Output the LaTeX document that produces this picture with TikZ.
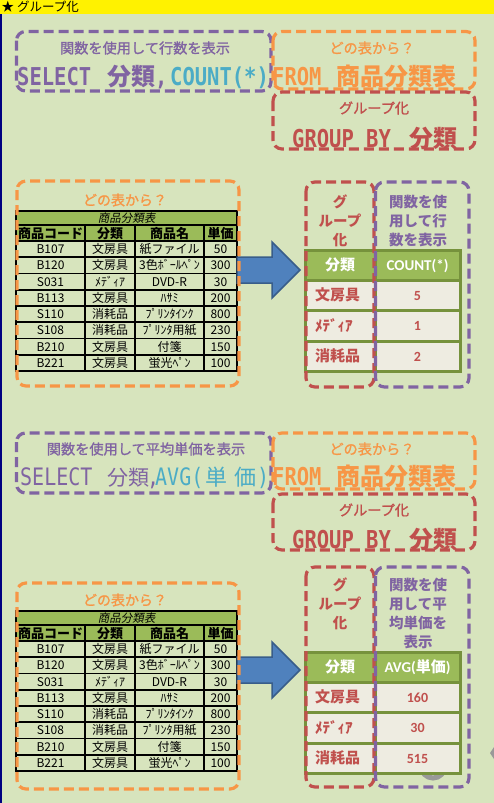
\documentclass[tikz,border=0pt]{standalone}
\usepackage{fontspec}
\usepackage{graphicx}
\newfontfamily\jp{Noto Sans CJK JP}
\newfontfamily\jpm{Noto Sans CJK JP}[FakeBold=1.2]
\newfontfamily\jpsl{Noto Sans CJK JP}[FakeSlant=0.2]
\newfontfamily\monof{DejaVu Sans Mono}
\newfontfamily\carl{Carlito}
\newcommand\fs[2]{\fontsize{#1}{#2}\selectfont}
\newcommand\tall[1]{\scalebox{1}[1.2]{#1}}
\definecolor{bg}{HTML}{D7E4BD}
\definecolor{pur}{HTML}{8064A2}
\definecolor{ora}{HTML}{F79646}
\definecolor{red2}{HTML}{C0504D}
\definecolor{aqua}{HTML}{4BACC6}
\definecolor{grn}{HTML}{9BBB59}
\definecolor{dgrn}{HTML}{76923C}
\definecolor{cell}{HTML}{EEECE1}
\definecolor{arr}{HTML}{4F81BD}
\definecolor{arrd}{HTML}{385D8A}
\definecolor{navy2}{HTML}{000080}
\tikzset{
 dbox/.style={line width=3.2pt, dash pattern=on 10pt off 5pt, rounded corners=9pt},
 txt/.style={inner sep=0pt, anchor=base west},
 lbl/.style={inner sep=0pt},
 cen/.style={inner sep=0pt, anchor=base},
 tline/.style={line width=1.8pt, black},
 gline/.style={line width=3pt, dgrn},
 arrowshape/.style={fill=arr, draw=arrd, line width=1.5pt, line join=miter},
 bigb/.style={font=\monof\bfseries\fs{20.5}{24}},
 bigr/.style={font=\monof\fs{20}{24}},
 bigj/.style={font=\jp\bfseries\fs{24}{28}},
 bigjr/.style={font=\jp\fs{21}{26}},
 small/.style={font=\jpm\fs{14.2}{16}},
 stack/.style={inner sep=0pt, align=center, font=\jp\bfseries\fs{14.5}{19}},
}
\newcommand\lefttable[2]{%
\begin{scope}[shift={(0,#2)}, name prefix=#1-]
 \fill[grn] (16,0) rectangle (237,30);
 \node[cen, font=\jpsl\fs{11.5}{13}] (title) at (126.5,11.3) {商品分類表};
 \node[cen, font=\jp\bfseries\fs{13}{14}] (h1) at (50.5,27) {商品コード};
 \node[cen, font=\jp\bfseries\fs{13}{14}] (h2) at (110,27) {分類};
 \node[cen, font=\jp\bfseries\fs{13}{14}] (h3) at (169.5,27) {商品名};
 \node[cen, font=\jp\bfseries\fs{13}{14}] (h4) at (220.5,27) {単価};
 \foreach \a/\b/\c/\d [count=\i] in {B107/文房具/紙ファイル/50, B120/文房具/3色ﾎﾞｰﾙﾍﾟﾝ/300, S031/ﾒﾃﾞｨｱ/DVD-R/30, B113/文房具/ﾊｻﾐ/200, S110/消耗品/ﾌﾟﾘﾝﾀｲﾝｸ/800, S108/消耗品/ﾌﾟﾘﾝﾀ用紙/230, B210/文房具/付箋/150, B221/文房具/蛍光ﾍﾟﾝ/100}{
  \pgfmathsetmacro\yy{30+16.25*\i-8.125+4.4}
  \node[cen, font=\jp\fs{12}{13}] (r\i a) at (50.5,\yy) {\a};
  \node[cen, font=\jp\fs{12}{13}] (r\i b) at (110,\yy) {\b};
  \node[cen, font=\jp\fs{12}{13}] (r\i c) at (169.5,\yy) {\c};
  \node[cen, font=\jp\fs{12}{13}] (r\i d) at (220.5,\yy) {\d};
  \pgfmathsetmacro\ly{30+16.25*\i}
  \draw[tline] (16,\ly) -- (237,\ly);
 }
 \draw[tline] (16,0) -- (237,0);
 \draw[tline] (16,14) -- (237,14);
 \draw[tline] (16,30) -- (237,30);
 \draw[tline] (16,-0.9) -- (16,160.9);
 \draw[tline] (237,-0.9) -- (237,160.9);
 \foreach \xx in {85,135,204} {\draw[tline] (\xx,14) -- (\xx,160);}
\end{scope}}
\newcommand\righttable[6]{%
\begin{scope}[shift={(0,#2)}, name prefix=#1-]
 \fill[grn] (305,0) rectangle (460,30);
 \fill[cell] (305,30) rectangle (460,121.5);
 \draw[gline] (305,0) rectangle (460,121.5);
 \draw[gline] (305,30) -- (460,30);
 \draw[gline] (305,60.5) -- (460,60.5);
 \draw[gline] (305,91) -- (460,91);
 \draw[gline] (375,0) -- (375,121.5);
 \node[cen, text=white, font=\jp\bfseries\fs{15}{16}] (h1) at (340,20.5) {分類};
 \node[cen, text=white, font=\carl\bfseries\fs{15}{16}] (h2) at (417.5,20.2) {#3};
 \node[txt, text=red2, font=\jp\bfseries\fs{15}{16}] (r1a) at (315,50.8) {文房具};
 \node[txt, text=red2, font=\jp\bfseries\fs{15}{16}] (r2a) at (315,81.3) {ﾒﾃﾞｨｱ};
 \node[txt, text=red2, font=\jp\bfseries\fs{15}{16}] (r3a) at (315,111.8) {消耗品};
 \node[cen, text=red2, font=\carl\bfseries\fs{14}{15}] (r1b) at (417.5,50.2) {#4};
 \node[cen, text=red2, font=\carl\bfseries\fs{14}{15}] (r2b) at (417.5,80.7) {#5};
 \node[cen, text=red2, font=\carl\bfseries\fs{14}{15}] (r3b) at (417.5,111.2) {#6};
\end{scope}}
\begin{document}
\begin{tikzpicture}[x=1pt,y=-1pt]
\useasboundingbox (0,0) rectangle (494,803);
\fill[bg] (0,0) rectangle (494,803);
% title bar
\fill[yellow] (0,0) rectangle (494,14);
\node[txt, font=\jp\fs{12.5}{13}] (bar) at (1.5,12) {★ グループ化};
\draw[navy2, line width=1.5pt] (0.75,14) -- (0.75,803);

% ===== section 1 =====
\node[lbl, text=pur, small] (l1a) at (145,48) {関数を使用して行数を表示};
\node[lbl, text=ora, small] (l1b) at (372,48) {どの表から？};
\node[lbl, text=red2, small] (l1c) at (374,108) {グループ化};
\node[txt, text=pur, bigb] (q1a) at (17,85) {\tall{SELECT}};
\node[txt, text=pur, bigj] (q1b) at (107,85) {分類};
\node[txt, text=pur, bigb] (q1c) at (155,85) {\tall{,}};
\node[txt, text=aqua, bigb] (q1d) at (170,85) {\tall{COUNT(*)}};
\node[txt, text=ora, bigb] (q1e) at (272,85) {\tall{FROM}};
\node[txt, text=ora, bigj] (q1f) at (336,85) {商品分類表};
\node[txt, text=red2, bigb] (g1a) at (292,147) {\tall{GROUP BY}};
\node[txt, text=red2, bigj] (g1b) at (409,147) {分類};
\draw[dbox, pur] (16.5,31.5) rectangle (271,91);
\draw[dbox, ora] (273,31.5) rectangle (475,89);
\draw[dbox, red2] (273,92) rectangle (475,149);

% ===== section 2 =====
\node[lbl, text=ora, font=\jpm\fs{14}{16}] (l2a) at (125,200) {どの表から？};
\lefttable{t2}{211}
\righttable{t2r}{250}{COUNT(*)}{5}{1}{2}
\node[stack, text=red2] (s2a) at (340,221) {グ\\ループ\\化};
\node[stack, text=pur] (s2b) at (418,221) {関数を使\\用して行\\数を表示};
\path[arrowshape] (237,257) -- (272,257) -- (272,242) -- (300,270) -- (272,298) -- (272,283) -- (237,283) -- cycle;
\draw[dbox, ora] (17,181) rectangle (239,386);
\draw[dbox, red2] (306,182) rectangle (374,387);
\draw[dbox, pur] (375.5,182) rectangle (469,387);

% ===== section 3 =====
\node[lbl, text=pur, small] (l3a) at (146,449) {関数を使用して平均単価を表示};
\node[lbl, text=ora, small] (l3b) at (372,449) {どの表から？};
\node[lbl, text=red2, small] (l3c) at (374,510) {グループ化};
\node[txt, text=pur, bigr] (q3a) at (20,485) {\tall{SELECT}};
\node[txt, text=pur, bigjr] (q3b) at (107,485) {分類};
\node[txt, text=pur, bigr] (q3c) at (147,485) {\tall{,}};
\node[txt, text=aqua, bigr] (q3d) at (155,485) {\tall{AVG(}};
\node[txt, text=aqua, font=\jp\fs{22}{26}] (q3e) at (205,485) {単};
\node[txt, text=aqua, font=\jp\fs{22}{26}] (q3f) at (234,485) {価};
\node[txt, text=aqua, bigr] (q3g) at (257,485) {\tall{)}};
\node[txt, text=ora, bigb] (q3h) at (272,485) {\tall{FROM}};
\node[txt, text=ora, bigj] (q3i) at (336,485) {商品分類表};
\node[txt, text=red2, bigb] (g3a) at (292,548) {\tall{GROUP BY}};
\node[txt, text=red2, bigj] (g3b) at (409,548) {分類};
\draw[dbox, pur] (16.5,433) rectangle (271,493);
\draw[dbox, ora] (273,433) rectangle (475,489);
\draw[dbox, red2] (273,494) rectangle (475,550);

% ===== section 4 =====
\node[lbl, text=ora, font=\jpm\fs{14}{16}] (l4a) at (125,600) {どの表から？};
\lefttable{t4}{611}
\draw[gray!80, line width=5pt] (433,766) circle[radius=12];
\fill[gray!80] (490,753) -- (494,747) -- (494,759) -- cycle;
\righttable{t4r}{652}{AVG({\jp 単価})}{160}{30}{515}
\node[stack, text=red2] (s4a) at (340,603.5) {グ\\ループ\\化};
\node[stack, text=pur] (s4b) at (418,613.5) {関数を使\\用して平\\均単価を\\表示};
\path[arrowshape] (237,657) -- (272,657) -- (272,642) -- (300,670) -- (272,698) -- (272,683) -- (237,683) -- cycle;
\draw[dbox, ora] (17,583) rectangle (239,789);
\draw[dbox, red2] (306,567) rectangle (374,787);
\draw[dbox, pur] (375.5,567) rectangle (469,787);
\end{tikzpicture}
\end{document}
